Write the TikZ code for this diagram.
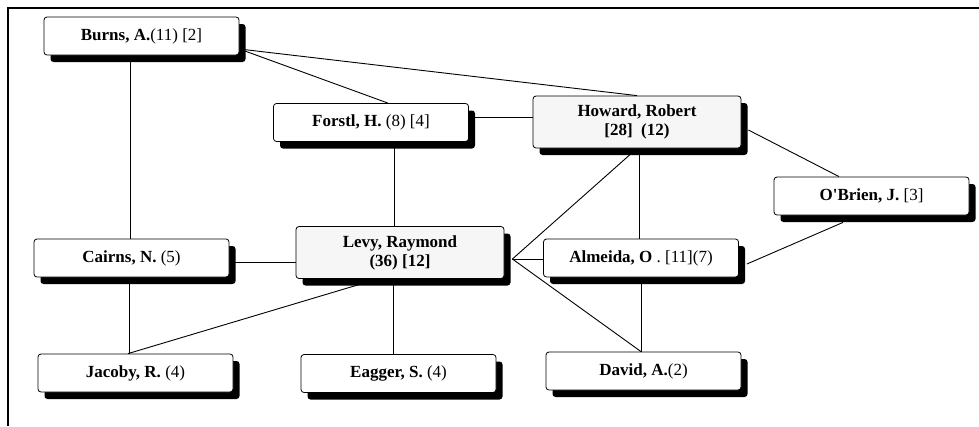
\documentclass[tikz,border=0pt]{standalone}
\usepackage{fontspec}
\setmainfont{Liberation Serif}
\usetikzlibrary{shadows,calc,backgrounds}
\begin{document}
\begin{tikzpicture}[x=1pt,y=-1pt,
  person/.style={draw=black, line width=0.8pt, rounded corners=3pt, fill=white,
    minimum width=195pt, minimum height=38pt, inner sep=0pt, align=center,
    font=\fontsize{17}{19}\selectfont,
    drop shadow={shadow xshift=6.5pt, shadow yshift=-7pt, fill=black, opacity=1}},
  bigperson/.style={person, fill=gray!7, minimum width=208pt, minimum height=52pt},
  link/.style={draw=black, line width=0.9pt}]
\useasboundingbox (0,0) rectangle (979,426);
\draw[line width=2pt] (979,8) -- (8,8) -- (8,426);
\node[person] (burns) at (141.5,36) {\textbf{Burns, A.}(11) [2]};
\node[person] (forstl) at (371,122.5) {\textbf{Forstl, H.} (8) [4]};
\node[bigperson] (howard) at (637,122) {\textbf{Howard, Robert}\\\textbf{[28]\ \ (12)}};
\node[person] (obrien) at (871.5,196) {\textbf{O\textquotesingle Brien, J.} [3]};
\node[person] (cairns) at (131.5,258) {\textbf{Cairns, N.} (5)};
\node[bigperson] (levy) at (400,252.5) {\textbf{Levy, Raymond}\\\textbf{(36) [12]}};
\node[person] (almeida) at (641,258) {\textbf{Almeida, O} . [11](7)};
\node[person] (jacoby) at (135.5,373) {\textbf{Jacoby, R.} (4)};
\node[person] (eagger) at (398.5,373.5) {\textbf{Eagger, S.} (4)};
\node[person] (david) at (643.5,371) {\textbf{David, A.}(2)};
\begin{pgfonlayer}{background}
\draw[link] ($(burns.east)+(0,13)$) -- (howard.north);
\draw[link] ($(burns.east)+(0,13)$) -- ($(forstl.north)+(17,0)$);
\draw[link] (burns.south -| 130,0) -- (cairns.north -| 130,0);
\draw[link] (forstl.east |- 0,117) -- (howard.west |- 0,117);
\draw[link] (forstl.south -| 394,0) -- (levy.north -| 394,0);
\draw[link] ($(howard.east)+(7,8)$) -- ($(obrien.north)+(-32.5,0)$);
\draw[link] (howard.south -| 639,0) -- (almeida.north -| 639,0);
\draw[link] (howard.south) -- ($(levy.east)+(8,6.5)$);
\draw[link] ($(levy.east)+(8,6.5)$) -- (almeida.west |- 0,259);
\draw[link] ($(levy.east)+(8,6.5)$) -- (david.north -| 641,0);
\draw[link] (almeida.south -| 641,0) -- (david.north -| 641,0);
\draw[link] ($(almeida.east)+(8,6)$) -- ($(obrien.south)+(-28.5,7)$);
\draw[link] (cairns.east |- 0,262) -- (levy.west |- 0,262);
\draw[link] (cairns.south -| 129,0) -- (jacoby.north -| 129,0);
\draw[link] ($(levy.south)+(-22,0)$) -- (jacoby.north -| 128,0);
\draw[link] (levy.south -| 393,0) -- (eagger.north -| 393,0);
\end{pgfonlayer}
\end{tikzpicture}
\end{document}
